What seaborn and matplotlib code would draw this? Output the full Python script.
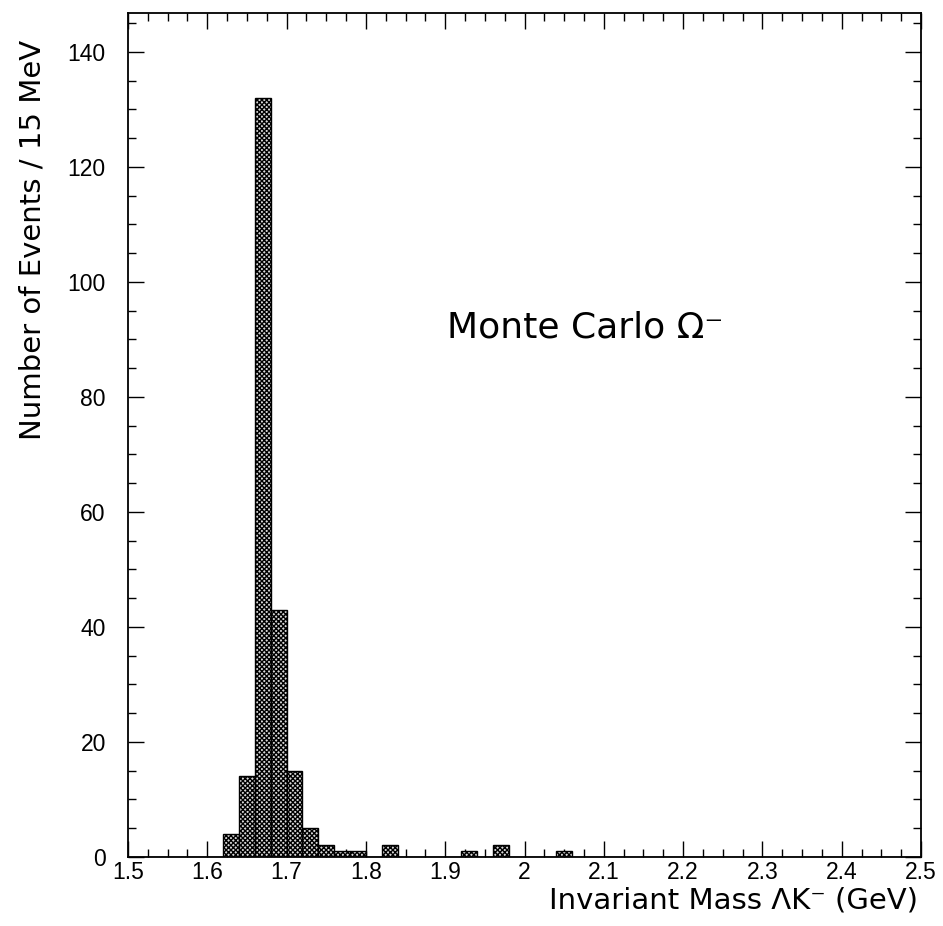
import numpy as np
import pandas as pd
import matplotlib
matplotlib.use("Agg")
import matplotlib.pyplot as plt
import seaborn as sns
from matplotlib.ticker import MultipleLocator

# ---- data ----
bin_low = [1.62, 1.64, 1.66, 1.68, 1.70, 1.72, 1.74, 1.76, 1.78, 1.82, 1.92, 1.96, 2.04]
counts = [4, 14, 132, 43, 15, 5, 2, 1, 1, 2, 1, 2, 1]
bin_width = 0.02
x_range = (1.5, 2.5)
xlabel = "Invariant Mass \u039bK\u207b (GeV)"
ylabel = "Number of Events / 15 MeV"
annotation = "Monte Carlo \u03a9\u207b"

df = pd.DataFrame({"mass": [b + bin_width / 2 for b in bin_low], "n": counts})

sns.set_theme(style="white")
plt.rcParams["font.family"] = ["DejaVu Sans"]
plt.rcParams["text.color"] = "black"
plt.rcParams["xtick.color"] = "black"
plt.rcParams["ytick.color"] = "black"
plt.rcParams["xtick.labelcolor"] = "black"
plt.rcParams["ytick.labelcolor"] = "black"
plt.rcParams["hatch.linewidth"] = 1.0

fig = plt.figure(figsize=(9.43, 9.26), dpi=100)
ax = fig.add_axes([128 / 943, 1 - 857 / 926, (921 - 128) / 943, (857 - 12.7) / 926])

sns.histplot(data=df, x="mass", weights="n", binwidth=bin_width, binrange=x_range, ax=ax,
             color="white", edgecolor="black", linewidth=1.0, alpha=1.0)
for p in ax.patches:
    p.set_hatch("xxxxxxx")
    p.set_facecolor("#d8d8d8")
    p.set_edgecolor("black")

ax.set_xlim(*x_range)
ax.set_ylim(0, 146.8)
ax.set_xlabel("")
ax.set_ylabel("")

ax.xaxis.set_major_locator(MultipleLocator(0.1))
ax.xaxis.set_minor_locator(MultipleLocator(0.025))
ax.yaxis.set_major_locator(MultipleLocator(20))
ax.yaxis.set_minor_locator(MultipleLocator(5))

def xfmt(v, pos):
    s = f"{v:.1f}"
    if s.endswith(".0"):
        s = s[:-2]
    return s
ax.xaxis.set_major_formatter(plt.FuncFormatter(xfmt))

for sp in ax.spines.values():
    sp.set_visible(True)
    sp.set_color("black")
    sp.set_linewidth(1.3)

ax.tick_params(which="both", direction="in", top=True, right=True, bottom=True, left=True,
               color="black", width=1.0)
ax.tick_params(which="major", length=11.5)
ax.tick_params(which="minor", length=5.5)
ax.tick_params(axis="x", which="major", pad=3, labelsize=16.5, labelfontfamily="Liberation Sans",
               labelcolor="black")
ax.tick_params(axis="y", which="major", pad=16, labelsize=16.5, labelfontfamily="Liberation Sans",
               labelcolor="black")

ax.text(1.902, 92, annotation, fontsize=26, ha="left", va="center", color="black")

fig.text(918 / 943, 1 - 908 / 926, xlabel, fontsize=21, ha="right", va="baseline", color="black")
fig.text(33 / 943, 1 - 240 / 926, ylabel, fontsize=21, ha="center", va="center", rotation=90,
         color="black")

fig.savefig("out.png", dpi=100)
